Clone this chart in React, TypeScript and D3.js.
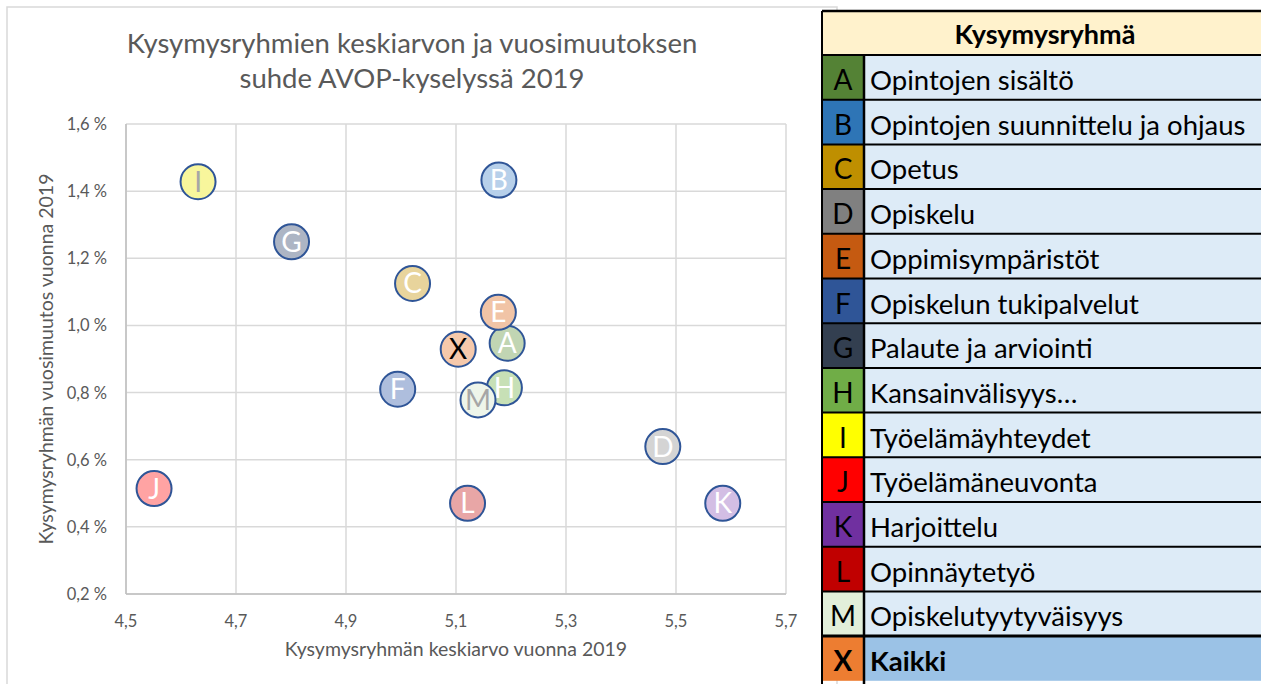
import React from "react";
import * as d3 from "d3";

const letters = ["A", "B", "C", "D", "E", "F", "G", "H", "I", "J", "K", "L", "M", "X"];
const names = [
  "Opintojen sisältö",
  "Opintojen suunnittelu ja ohjaus",
  "Opetus",
  "Opiskelu",
  "Oppimisympäristöt",
  "Opiskelun tukipalvelut",
  "Palaute ja arviointi",
  "Kansainvälisyys…",
  "Työelämäyhteydet",
  "Työelämäneuvonta",
  "Harjoittelu",
  "Opinnäytetyö",
  "Opiskelutyytyväisyys",
  "Kaikki",
];
const meanValues = [5.193, 5.178, 5.021, 5.476, 5.177, 4.994, 4.801, 5.188, 4.631, 4.551, 5.585, 5.121, 5.14, 5.104];
const changeValues = [0.947, 1.433, 1.125, 0.639, 1.039, 0.81, 1.249, 0.814, 1.428, 0.514, 0.47, 0.47, 0.778, 0.929];
const legendColors = ["#548235", "#2E75B6", "#BF8F00", "#808080", "#C55A11", "#2F5597", "#333F50", "#70AD47", "#FFFF00", "#FF0000", "#7030A0", "#C00000", "#E2EFDA", "#ED7D31"];
const bubbleColors = ["#C1D5B3", "#B7D0EA", "#E8D49C", "#D4D4D4", "#F1C4A6", "#AEBEDD", "#ADB5C4", "#C7E0B6", "#F8F69C", "#FFA3A3", "#D3BEE4", "#E8A6A6", "#EEF5EA", "#F6C9AB"];
const labelColors = ["#FFFFFF", "#FFFFFF", "#FFFFFF", "#FFFFFF", "#FFFFFF", "#FFFFFF", "#FFFFFF", "#FFFFFF", "#A6A6A6", "#FFFFFF", "#FFFFFF", "#FFFFFF", "#A6A6A6", "#000000"];
const xTicks = [4.5, 4.7, 4.9, 5.1, 5.3, 5.5, 5.7];
const yTicks = [0.2, 0.4, 0.6, 0.8, 1.0, 1.2, 1.4, 1.6];
const titleLines = ["Kysymysryhmien keskiarvon ja vuosimuutoksen", "suhde AVOP-kyselyssä 2019"];
const xTitle = "Kysymysryhmän keskiarvo vuonna 2019";
const yTitle = "Kysymysryhmän vuosimuutos vuonna 2019";
const tableHeader = "Kysymysryhmä";

const FONT = "Lato, 'Open Sans', sans-serif";

export default function App() {
  const left = 126, right = 786, top = 124, bottom = 594;
  const x = d3.scaleLinear().domain([4.5, 5.7]).range([left, right]);
  const y = d3.scaleLinear().domain([0.2, 1.6]).range([bottom, top]);
  const fmt = (v: number) => v.toFixed(1).replace(".", ",");

  const tLeft = 822, tSplit = 864, tTop = 11, headerH = 44, rowH = 44.7;

  return (
    <svg width={1261} height={684} style={{ position: "absolute", left: 0, top: 0, background: "#fff" }} fontFamily={FONT}>
      <rect x={7} y={7} width={830} height={700} fill="#fff" stroke="#D9D9D9" strokeWidth={1.5} />
      {/* title */}
      {titleLines.map((t, i) => (
        <text key={t} x={412} y={53 + i * 35} textAnchor="middle" fontSize={27.5} fill="#595959">{t}</text>
      ))}
      {/* grid */}
      {xTicks.map((t) => (
        <line key={"gx" + t} x1={x(t)} x2={x(t)} y1={top} y2={bottom} stroke="#D9D9D9" strokeWidth={1.5} />
      ))}
      {yTicks.map((t) => (
        <line key={"gy" + t} x1={left} x2={right} y1={y(t)} y2={y(t)} stroke="#D9D9D9" strokeWidth={1.5} />
      ))}
      <line x1={left} x2={left} y1={top} y2={bottom} stroke="#BFBFBF" strokeWidth={1.5} />
      <line x1={left} x2={right} y1={bottom} y2={bottom} stroke="#BFBFBF" strokeWidth={1.5} />
      {/* tick labels */}
      {xTicks.map((t) => (
        <text key={"tx" + t} x={x(t)} y={627} textAnchor="middle" fontSize={16.5} fill="#595959">{fmt(t)}</text>
      ))}
      {yTicks.map((t) => (
        <text key={"ty" + t} x={107} y={y(t) + 6} textAnchor="end" fontSize={16.5} fill="#595959">{fmt(t) + " %"}</text>
      ))}
      <text x={456} y={656} textAnchor="middle" fontSize={19.5} fill="#595959">{xTitle}</text>
      <text transform={`translate(53,359) rotate(-90)`} textAnchor="middle" fontSize={19.5} fill="#595959">{yTitle}</text>
      {/* bubbles */}
      {letters.map((l, i) => (
        <g key={"b" + l}>
          <circle cx={x(meanValues[i])} cy={y(changeValues[i])} r={17.5} fill={bubbleColors[i]} stroke="#2F5597" strokeWidth={2} />
          <text x={x(meanValues[i])} y={y(changeValues[i]) + 10} textAnchor="middle" fontSize={28} fill={labelColors[i]}>{l}</text>
        </g>
      ))}
      {/* table */}
      <rect x={tLeft} y={tTop} width={1261 - tLeft} height={headerH} fill="#FFF2CC" />
      <text x={1045} y={tTop + 33} textAnchor="middle" fontSize={27} fontWeight="bold" fill="#000">{tableHeader}</text>
      {letters.map((l, i) => {
        const ry = tTop + headerH + i * rowH;
        const last = i === letters.length - 1;
        return (
          <g key={"r" + l}>
            <rect x={tLeft} y={ry} width={tSplit - tLeft} height={rowH} fill={legendColors[i]} />
            <rect x={tSplit} y={ry} width={1261 - tSplit} height={rowH} fill={last ? "#9BC2E6" : "#DDEBF7"} />
            <text x={(tLeft + tSplit) / 2} y={ry + 35} textAnchor="middle" fontSize={28} fontWeight={last ? "bold" : "normal"} fill="#000">{l}</text>
            <text x={870} y={ry + 35} fontSize={27.5} fontWeight={last ? "bold" : "normal"} fill="#000">{names[i]}</text>
            <line x1={tLeft} x2={1261} y1={ry} y2={ry} stroke="#000" strokeWidth={last ? 3 : 2} />
          </g>
        );
      })}
      <line x1={tLeft} x2={1261} y1={tTop} y2={tTop} stroke="#000" strokeWidth={2.5} />
      <line x1={tLeft} x2={tLeft} y1={tTop} y2={684} stroke="#000" strokeWidth={2} />
      <line x1={tSplit} x2={tSplit} y1={tTop + headerH} y2={684} stroke="#000" strokeWidth={2.5} />
    </svg>
  );
}
